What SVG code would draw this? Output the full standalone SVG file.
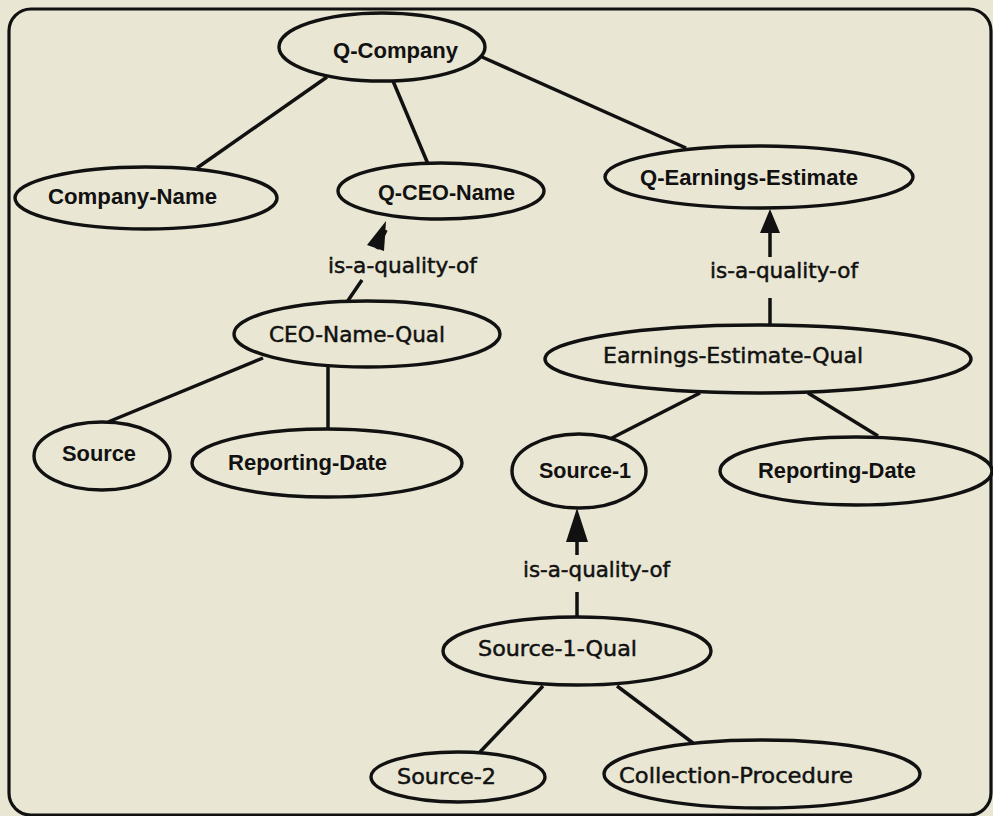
<svg xmlns="http://www.w3.org/2000/svg" width="993" height="816" viewBox="0 0 993 816">
<style>
.bg{fill:#e9e6d3}
.frame{fill:none;stroke:#111;stroke-width:3.2}
.node ellipse{fill:#e9e6d3;stroke:#111;stroke-width:3.4}
.b{font-family:"Liberation Sans",Arial,sans-serif;font-weight:bold;font-size:22px;fill:#111}
.r{font-family:"DejaVu Sans","Noto Sans",sans-serif;font-size:22px;fill:#111;stroke:#111;stroke-width:0.5}
.edges line{stroke:#111;stroke-width:3.5;fill:none}
</style>
<rect class="bg" x="0" y="0" width="993" height="816"/>
<rect class="frame" x="9" y="9" width="982" height="806" rx="22"/>

<g id="connectors" class="edges">
<line x1="327" y1="77" x2="197" y2="168"/>
<line x1="393" y1="81" x2="428" y2="164"/>
<line x1="482" y1="57" x2="686" y2="148"/>
<line x1="347" y1="302" x2="362" y2="280"/>
<line x1="377" y1="249" x2="386" y2="230"/>
<polygon points="386,221 367,245 384,251" fill="#111"/>
<line x1="770" y1="257" x2="770" y2="230"/>
<polygon points="770,209 760,233 780,233" fill="#111"/>
<line x1="770" y1="298" x2="770" y2="325"/>
<line x1="700" y1="393" x2="608" y2="440"/>
<line x1="808" y1="393" x2="878" y2="436"/>
<line x1="263" y1="358" x2="108" y2="422"/>
<line x1="328" y1="367" x2="328" y2="430"/>
<line x1="577" y1="555" x2="577" y2="535"/>
<polygon points="577,508 566,542 588,542" fill="#111"/>
<line x1="577" y1="592" x2="577" y2="617"/>
<line x1="543" y1="686" x2="480" y2="752"/>
<line x1="617" y1="686" x2="693" y2="743"/>
<text class="r" x="328" y="273" textLength="149" lengthAdjust="spacingAndGlyphs">is-a-quality-of</text>
<text class="r" x="710" y="278" textLength="148" lengthAdjust="spacingAndGlyphs">is-a-quality-of</text>
<text class="r" x="523" y="577" textLength="147" lengthAdjust="spacingAndGlyphs">is-a-quality-of</text>
</g>

<g id="q-company" class="node"><ellipse cx="382" cy="47" rx="103" ry="34"/><text class="b" x="333" y="58" textLength="125" lengthAdjust="spacingAndGlyphs">Q-Company</text></g>
<g id="company-name" class="node"><ellipse cx="146" cy="198" rx="131" ry="31"/><text class="b" x="48" y="204" textLength="169" lengthAdjust="spacingAndGlyphs">Company-Name</text></g>
<g id="q-ceo-name" class="node"><ellipse cx="441" cy="191" rx="103" ry="28"/><text class="b" x="378" y="200" textLength="137" lengthAdjust="spacingAndGlyphs">Q-CEO-Name</text></g>
<g id="q-earnings-estimate" class="node"><ellipse cx="759" cy="177" rx="154" ry="31"/><text class="b" x="640" y="185" textLength="218" lengthAdjust="spacingAndGlyphs">Q-Earnings-Estimate</text></g>
<g id="ceo-name-qual" class="node"><ellipse cx="367" cy="334" rx="133" ry="33"/><text class="r" x="269" y="342" textLength="176" lengthAdjust="spacingAndGlyphs">CEO-Name-Qual</text></g>
<g id="source" class="node"><ellipse cx="102" cy="456" rx="68" ry="34"/><text class="b" x="62" y="461" textLength="74" lengthAdjust="spacingAndGlyphs">Source</text></g>
<g id="reporting-date-1" class="node"><ellipse cx="327" cy="463" rx="135" ry="34"/><text class="b" x="228" y="470" textLength="159" lengthAdjust="spacingAndGlyphs">Reporting-Date</text></g>
<g id="earnings-estimate-qual" class="node"><ellipse cx="758" cy="359" rx="213" ry="34"/><text class="r" x="603" y="363" textLength="260" lengthAdjust="spacingAndGlyphs">Earnings-Estimate-Qual</text></g>
<g id="source-1" class="node"><ellipse cx="579" cy="471" rx="67" ry="37"/><text class="b" x="539" y="478" textLength="92" lengthAdjust="spacingAndGlyphs">Source-1</text></g>
<g id="reporting-date-2" class="node"><ellipse cx="856" cy="471" rx="136" ry="34"/><text class="b" x="758" y="478" textLength="158" lengthAdjust="spacingAndGlyphs">Reporting-Date</text></g>
<g id="source-1-qual" class="node"><ellipse cx="577" cy="651" rx="134" ry="34"/><text class="r" x="478" y="656" textLength="159" lengthAdjust="spacingAndGlyphs">Source-1-Qual</text></g>
<g id="source-2" class="node"><ellipse cx="458" cy="777" rx="87" ry="25"/><text class="r" x="397" y="784" textLength="99" lengthAdjust="spacingAndGlyphs">Source-2</text></g>
<g id="collection-procedure" class="node"><ellipse cx="762" cy="774" rx="158" ry="34"/><text class="r" x="619" y="783" textLength="234" lengthAdjust="spacingAndGlyphs">Collection-Procedure</text></g>
</svg>
